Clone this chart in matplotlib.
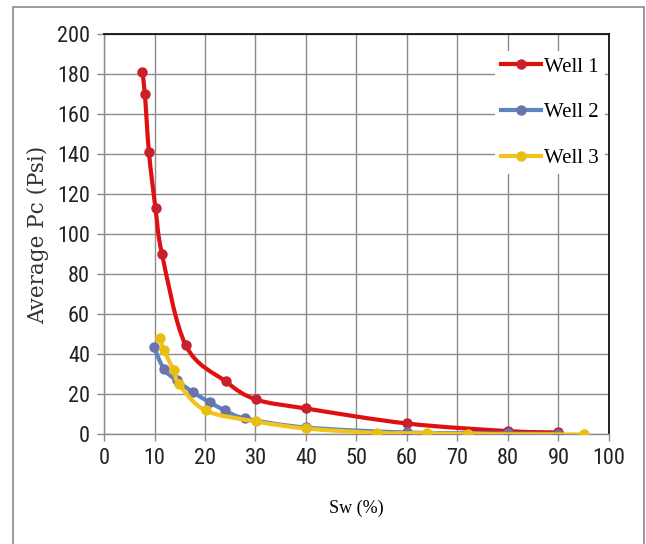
import matplotlib
matplotlib.use('Agg')
import matplotlib.pyplot as plt
from matplotlib.path import Path
from matplotlib.patches import PathPatch, Rectangle
from matplotlib.lines import Line2D
from matplotlib import font_manager


# values
well1_sw = [7.6, 8.1, 8.9, 10.2, 11.5, 16.2, 24.1, 30.1, 40, 60, 80, 90]
well1_pc = [181, 170, 141, 113, 90, 44.5, 26.5, 17.5, 13, 5.5, 1.7, 1.0]

well2_sw = [9.9, 11.9, 14.4, 17.7, 21, 24, 28, 40, 60, 80, 90]
well2_pc = [43.6, 32.6, 27, 21, 16, 12, 8, 3.5, 1.0, 0.5, 0.3]

well3_sw = [11, 11.9, 13.8, 14.9, 20.1, 30.1, 40, 54, 64, 72, 95]
well3_pc = [48, 42, 32, 25, 12, 6.5, 3, 0.8, 0.6, 0.2, 0.0]

series_names = ['Well 1', 'Well 2', 'Well 3']
line_colors = ['#e01010', '#5a86c0', '#f5c21b']
marker_colors = ['#c8202e', '#6a74a8', '#e8bf10']

x_ticks = list(range(0, 101, 10))
y_ticks = list(range(0, 201, 20))


def pick_font(names, fallback):
    avail = {f.name for f in font_manager.fontManager.ttflist}
    for n in names:
        if n in avail:
            return n
    return fallback


TICK_FONT = pick_font(['Liberation Sans Narrow', 'Roboto Condensed'], 'DejaVu Sans')
SERIF_FONT = pick_font(['Liberation Serif', 'DejaVu Serif'], 'serif')
WIDE_SERIF = pick_font(['DejaVu Serif', 'Liberation Serif'], 'serif')


def smooth_path(xs, ys):
    # Excel-style smoothed line: cubic bezier through the points
    pts = list(zip(xs, ys))
    verts = [pts[0]]
    codes = [Path.MOVETO]
    n = len(pts)
    for i in range(n - 1):
        p0 = pts[i - 1] if i > 0 else pts[i]
        p1 = pts[i]
        p2 = pts[i + 1]
        p3 = pts[i + 2] if i + 2 < n else pts[i + 1]
        c1 = (p1[0] + (p2[0] - p0[0]) / 6, p1[1] + (p2[1] - p0[1]) / 6)
        c2 = (p2[0] - (p3[0] - p1[0]) / 6, p2[1] - (p3[1] - p1[1]) / 6)
        verts += [c1, c2, p2]
        codes += [Path.CURVE4] * 3
    return Path(verts, codes)


fig = plt.figure(figsize=(6.46, 5.44), dpi=100)
ax = fig.add_axes([0.161, 0.2013, 0.7817, 0.7353])

fig.patches.append(Rectangle((13 / 646, -0.05), 631 / 646, 1.05 - 7 / 544,
                             transform=fig.transFigure, fill=False,
                             edgecolor='#8a8a8a', linewidth=1.2))

data = [(well1_sw, well1_pc), (well2_sw, well2_pc), (well3_sw, well3_pc)]
handles = []
for k, (xs, ys) in enumerate(data):
    ax.add_patch(PathPatch(smooth_path(xs, ys), facecolor='none',
                           edgecolor=line_colors[k], linewidth=3.0,
                           capstyle='round', zorder=3 + k))
    ax.plot(xs, ys, linestyle='none', marker='o', markersize=6.5,
            markerfacecolor=marker_colors[k], markeredgecolor=marker_colors[k],
            zorder=3 + k)
    handles.append(Line2D([], [], color=line_colors[k], linewidth=3.0,
                          marker='o', markersize=6.5,
                          markerfacecolor=marker_colors[k],
                          markeredgecolor=marker_colors[k]))

ax.set_xlim(0, 100)
ax.set_ylim(0, 200)
ax.set_xticks(x_ticks)
ax.set_yticks(y_ticks)
ax.grid(True, color='#8c8c8c', linewidth=1.0)
ax.set_axisbelow(True)

for side in ['left', 'bottom']:
    ax.spines[side].set_color('#8c8c8c')
    ax.spines[side].set_linewidth(1.0)
for side in ['top', 'right']:
    ax.spines[side].set_color('#111111')
    ax.spines[side].set_linewidth(1.3)

ax.tick_params(axis='both', direction='out', length=5, width=1.0,
               color='#8c8c8c', labelsize=16, labelcolor='#222222', pad=5)
for lab in ax.get_xticklabels() + ax.get_yticklabels():
    lab.set_fontfamily(TICK_FONT)

ax.set_xlabel('Sw (%)', fontsize=13, family=SERIF_FONT, labelpad=22)
ax.set_ylabel('Average Pc (Psi)', fontsize=15.5, family=WIDE_SERIF,
              labelpad=6, color='#333333')

leg = ax.legend(handles, series_names, loc='upper right',
                bbox_to_anchor=(1.012, 0.985), frameon=True, fancybox=False,
                facecolor='white', edgecolor='none', framealpha=1.0,
                prop={'family': SERIF_FONT, 'size': 15}, handlelength=1.9,
                handletextpad=0.15, labelspacing=1.25, borderpad=0.3)
leg.set_zorder(10)

fig.savefig('out.png', dpi=100)
